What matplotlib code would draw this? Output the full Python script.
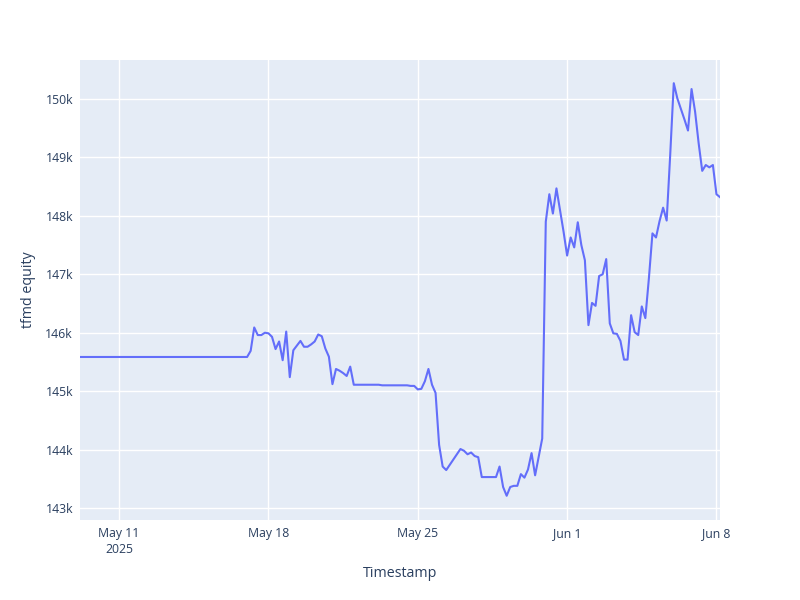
import numpy as np
import pandas as pd
import matplotlib
matplotlib.use("Agg")
import matplotlib.pyplot as plt
from matplotlib.ticker import FuncFormatter

plt.rcParams['font.family'] = ['Open Sans', 'DejaVu Sans']

# equity every 4 hours, in thousands
start = "2025-05-09 04:00"
equity_k = [145.585] * 48 + [
    145.69, 146.09, 145.96, 145.96, 146.00, 145.99, 145.93, 145.72, 145.85, 145.53,
    146.02, 145.24, 145.70, 145.78, 145.86, 145.76, 145.76, 145.80, 145.85, 145.97,
    145.94, 145.73, 145.59, 145.12, 145.38, 145.35, 145.31, 145.26, 145.42, 145.11,
    145.11, 145.11, 145.11, 145.11, 145.11, 145.11, 145.11, 145.10, 145.10, 145.10,
    145.10, 145.10, 145.10, 145.10, 145.10, 145.09, 145.09, 145.03, 145.04, 145.17,
    145.38, 145.11, 144.97, 144.08, 143.71, 143.65, 143.74, 143.83, 143.92, 144.01,
    143.98, 143.92, 143.95, 143.89, 143.87, 143.53, 143.53, 143.53, 143.53, 143.53,
    143.71, 143.36, 143.21, 143.36, 143.38, 143.38, 143.58, 143.52, 143.66, 143.94,
    143.56, 143.88, 144.19, 147.90, 148.37, 148.04, 148.47, 148.10, 147.73, 147.32,
    147.63, 147.46, 147.89, 147.50, 147.24, 146.13, 146.51, 146.46, 146.97, 147.00,
    147.26, 146.16, 145.99, 145.98, 145.86, 145.54, 145.54, 146.30, 146.01, 145.96,
    146.45, 146.25, 146.93, 147.70, 147.63, 147.91, 148.14, 147.92, 149.05, 150.27,
    150.01, 149.83, 149.65, 149.46, 150.17, 149.78, 149.24, 148.77, 148.87, 148.83,
    148.87, 148.37, 148.32,
]
equity = np.array(equity_k) * 1000
timestamps = pd.date_range(start, periods=len(equity), freq="4h")

tick_dates = pd.to_datetime(["2025-05-11", "2025-05-18", "2025-05-25", "2025-06-01", "2025-06-08"])
tick_labels = ["May 11\n2025", "May 18", "May 25", "Jun 1", "Jun 8"]
y_ticks = np.arange(143000, 150001, 1000)

fig = plt.figure(figsize=(8, 6), dpi=100)
ax = fig.add_axes([0.1, 0.1333, 0.8, 0.7667])
ax.set_facecolor("#E5ECF6")
ax.plot(timestamps, equity, color="#636EFA", linewidth=1.5)

ax.set_xlim(timestamps[0], timestamps[-1])
ax.set_ylim(142795, 150667)
ax.set_xticks(tick_dates)
ax.set_xticklabels(tick_labels, linespacing=1.35)
ax.set_yticks(y_ticks)
ax.yaxis.set_major_formatter(FuncFormatter(lambda v, p: f"{int(round(v / 1000))}k"))

ax.grid(True, color="white", linewidth=1)
ax.set_axisbelow(True)
for s in ax.spines.values():
    s.set_visible(False)
ax.tick_params(length=0, labelsize=8.8, colors="#2a3f5f", pad=5)

ax.set_xlabel("Timestamp", fontsize=10.3, color="#2a3f5f", labelpad=7)
ax.set_ylabel("tfmd equity", fontsize=10.3, color="#2a3f5f", labelpad=7)

fig.savefig("out.png", dpi=100)
